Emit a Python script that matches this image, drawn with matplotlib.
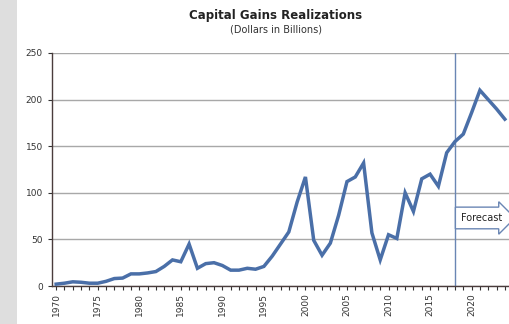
import matplotlib.pyplot as plt
from matplotlib.patches import Rectangle

years = list(range(1970, 2025))
gains = [2, 3, 4.5, 4, 3, 3, 5, 8, 8.5, 13,
         13, 14, 15.5, 21, 28, 26, 45, 19, 24, 25,
         22, 17, 17, 19, 18, 21, 32, 45, 58, 90,
         117, 49, 33, 46, 76, 112, 117, 132, 57, 28,
         55, 51, 100, 80, 115, 120, 107, 143, 155, 163,
         186, 210, 200, 190, 179]
forecast_year = 2018
yticks = [0, 50, 100, 150, 200, 250]
xlabels = list(range(1970, 2025, 5))

W, H = 509, 324
fig = plt.figure(figsize=(W / 100, H / 100), dpi=100)
fig.patch.set_facecolor("white")

# grey strip at the left edge of the screenshot
fig.patches.append(Rectangle((0, 0), 17 / W, 1, transform=fig.transFigure,
                             facecolor="#dedede", edgecolor="none", zorder=0))

ax = fig.add_axes([52 / W, (H - 286) / H, 457 / W, 233 / H])
ax.set_facecolor("white")

ax.plot(years, gains, color="#4a6fa8", linewidth=2.5, solid_joinstyle="miter", zorder=3)
ax.axvline(forecast_year, color="#6a86b4", linewidth=1.0, zorder=2)

ax.set_xlim(1969.5, 2024.5)
ax.set_ylim(0, 250)
ax.set_yticks(yticks)
ax.set_xticks(xlabels)
ax.set_xticks(years, minor=True)
ax.set_xticklabels([str(y) for y in xlabels], rotation=90, fontsize=6.5, color="#333333")
ax.tick_params(axis="y", labelsize=6.5, colors="#333333", length=3, width=0.8)
ax.tick_params(axis="x", which="both", length=3, width=0.8, colors="#333333", pad=2)

ax.grid(axis="y", color="#a8a8a8", linewidth=1.0)
ax.set_axisbelow(True)
for s in ["top", "right"]:
    ax.spines[s].set_visible(False)
for s in ["left", "bottom"]:
    ax.spines[s].set_color("#4a3c3c")
    ax.spines[s].set_linewidth(1.0)

ax.text(2018.75, 73, "Forecast", fontsize=7, color="#222222", va="center", ha="left",
        bbox=dict(boxstyle="rarrow,pad=0.6", facecolor="white", edgecolor="#6a86b4",
                  linewidth=1.0), zorder=4)

fig.text(276 / W, 1 - 16 / H, "Capital Gains Realizations", ha="center", va="center",
         fontsize=8.5, fontweight="bold", color="#222222")
fig.text(276 / W, 1 - 30 / H, "(Dollars in Billions)", ha="center", va="center",
         fontsize=7, color="#333333")

fig.savefig("out.png", dpi=100)
